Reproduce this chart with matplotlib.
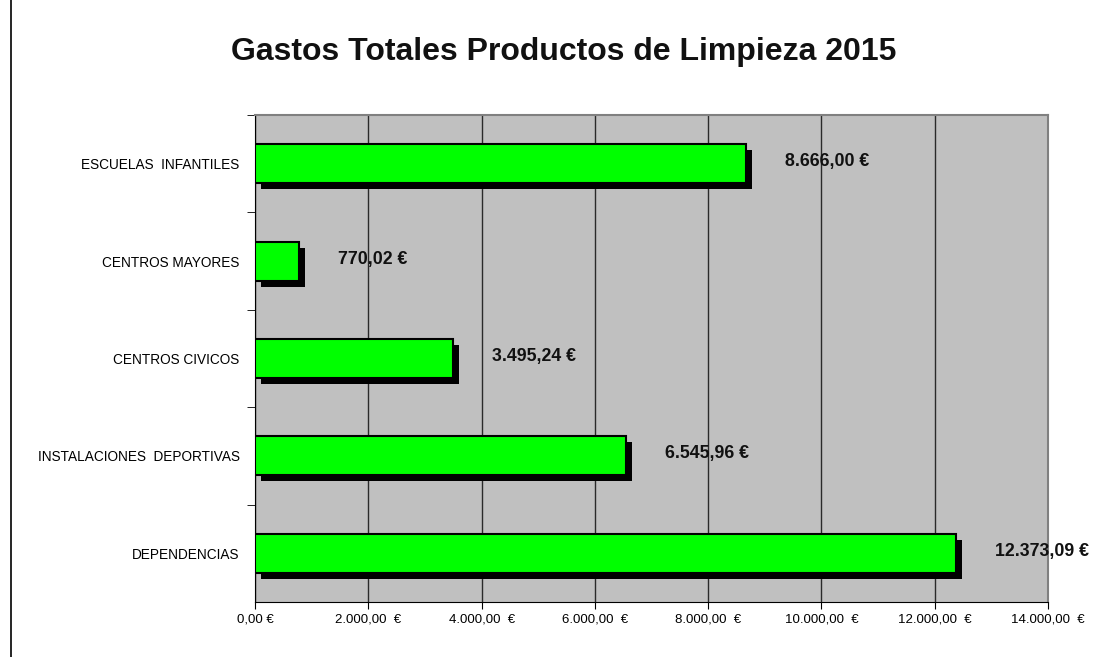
import matplotlib
matplotlib.use("Agg")
import matplotlib.pyplot as plt
from matplotlib.lines import Line2D

plt.rcParams['font.family'] = ['Liberation Sans', 'DejaVu Sans']

categorias = ["ESCUELAS  INFANTILES", "CENTROS MAYORES", "CENTROS CIVICOS",
              "INSTALACIONES  DEPORTIVAS", "DEPENDENCIAS"]
gastos = [8666.00, 770.02, 3495.24, 6545.96, 12373.09]
etiquetas = ["8.666,00 €", "770,02 €", "3.495,24 €", "6.545,96 €", "12.373,09 €"]
xticks = [0, 2000, 4000, 6000, 8000, 10000, 12000, 14000]
xtick_labels = ["0,00 €", "2.000,00  €", "4.000,00  €", "6.000,00  €",
                "8.000,00  €", "10.000,00  €", "12.000,00  €", "14.000,00  €"]

W, H = 1102, 657
fig = plt.figure(figsize=(W / 100, H / 100), dpi=100)
ax = fig.add_axes([255 / W, 1 - 602 / H, (1048 - 255) / W, (602 - 115) / H])
ax.set_facecolor('#c0c0c0')

ypos = list(range(len(categorias)))[::-1]
# sombra desplazada ~6 px
dx = 14000 / 793 * 6
dy = 6 / 97.4
ax.barh([y - dy for y in ypos], gastos, height=0.4, left=dx, color='black', zorder=2)
ax.barh(ypos, gastos, height=0.4, color='#00ff00', edgecolor='black', linewidth=1.5, zorder=3)

off = 14000 / 793 * 39
for y, v, t in zip(ypos, gastos, etiquetas):
    ax.text(v + off, y + 0.02, t, ha='left', va='center', fontsize=12.8,
            fontweight='bold', color='#111111', zorder=4, clip_on=False)

ax.set_xlim(0, 14000)
ax.set_ylim(-0.5, len(categorias) - 0.5)
ax.set_xticks(xticks)
ax.set_xticklabels(xtick_labels, fontsize=9.5)
ax.xaxis.grid(True, color='#2a2a2a', linewidth=1, zorder=1)
ax.set_axisbelow(True)

ax.set_yticks(ypos)
ax.set_yticklabels(categorias, fontsize=9.8)
ax.tick_params(axis='y', length=0, pad=11)
ax.set_yticks([y + 0.5 for y in range(len(categorias))], minor=True)
ax.tick_params(axis='y', which='minor', length=6, direction='out')
ax.tick_params(axis='x', length=5, direction='out', pad=3)

for s in ['top', 'right']:
    ax.spines[s].set_color('#808080')
    ax.spines[s].set_linewidth(1.5)
ax.spines['left'].set_color('black')
ax.spines['bottom'].set_color('black')

fig.text(564 / W, 1 - 52 / H, "Gastos Totales Productos de Limpieza 2015",
         ha='center', va='center', fontsize=23, fontweight='bold', color='#111111')

fig.add_artist(Line2D([11 / W, 11 / W], [0, 1], color='black', linewidth=1.2,
                      transform=fig.transFigure))

fig.savefig("out.png", dpi=100, facecolor='white')
